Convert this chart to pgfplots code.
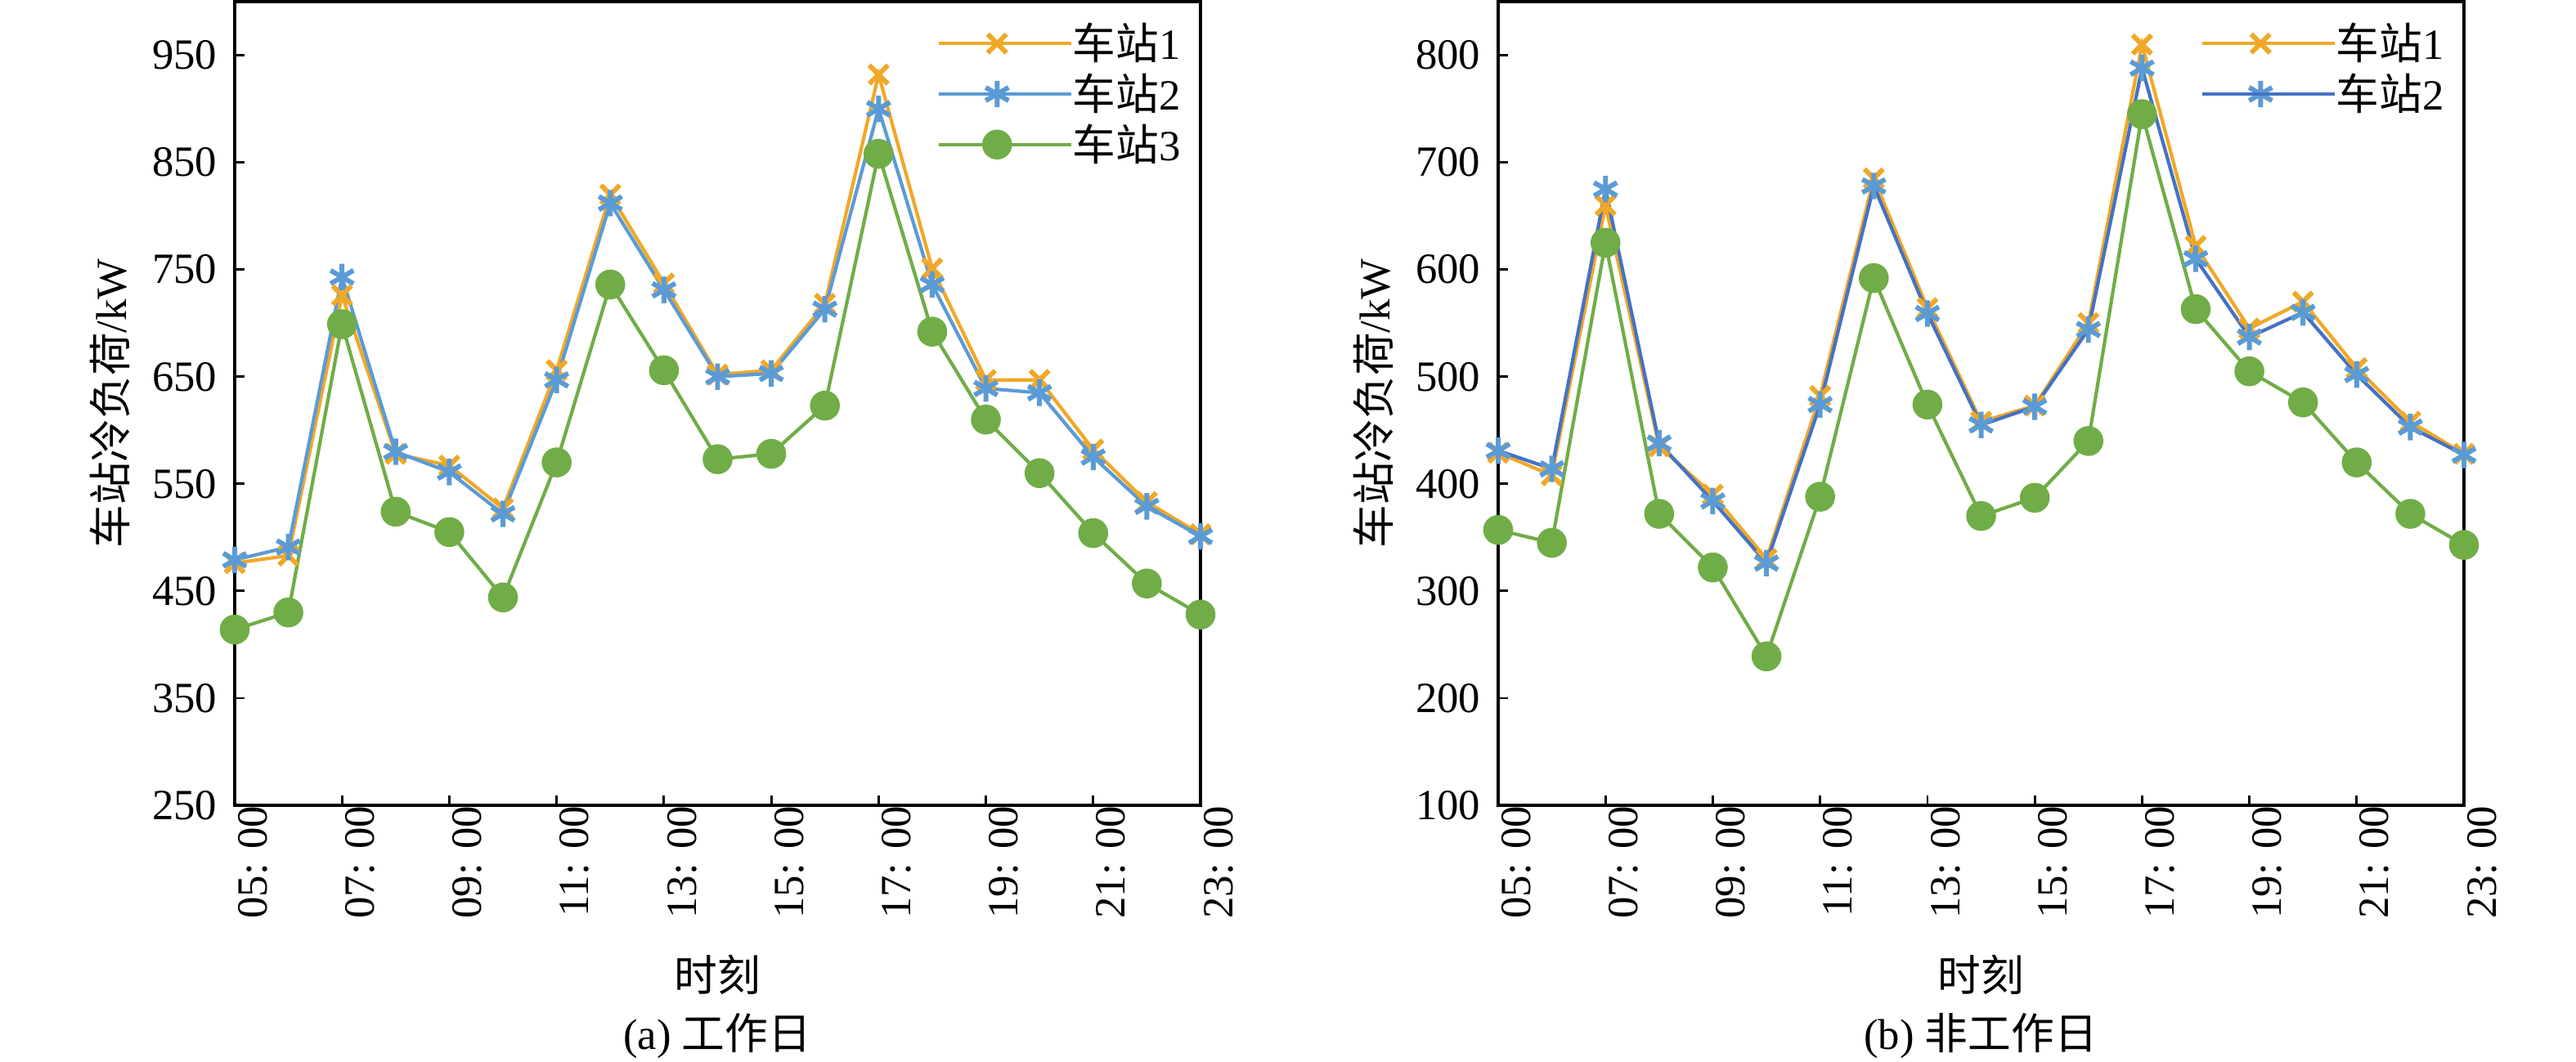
\documentclass[border=0pt]{standalone}
\usepackage{pgfplots}
\pgfplotsset{compat=1.18}
\usepackage{fontspec}
\setmainfont{Liberation Serif}
\newfontfamily\cjk{Noto Sans CJK SC}
\definecolor{c1}{RGB}{240,168,40}
\definecolor{c2}{RGB}{91,155,213}
\definecolor{c2d}{RGB}{68,114,196}
\definecolor{c3}{RGB}{112,173,71}
\begin{document}
\begin{tikzpicture}
\useasboundingbox (0,0) rectangle (315mm,129.8mm);
\pgfplotsset{
  myaxis/.style={
    scale only axis, width=118.1mm, height=98.3mm,
    anchor=south west,
    xmin=5, xmax=23,
    xtick={5,7,...,23},
    xticklabels={05: 00,07: 00,09: 00,11: 00,13: 00,15: 00,17: 00,19: 00,21: 00,23: 00},
    tick align=inside, tick pos=left,
    major tick length=1.2mm,
    tick style={line width=0.8pt, black},
    axis line style={line width=1pt},
    font=\fontsize{15}{18}\selectfont,
    /pgf/number format/assume math mode=true,
    x tick label style={rotate=90, anchor=east, inner sep=0pt, yshift=-2.2mm, font=\fontsize{15}{18}\selectfont},
    y tick label style={anchor=east, inner sep=0pt, xshift=-2.1mm, font=\fontsize{15}{18}\selectfont},
    xlabel={\cjk 时刻},
    ylabel={{\cjk 车站冷负荷}/kW},
    every axis x label/.style={at={(rel axis cs:0.5,0)}, yshift=-20.7mm, anchor=center, inner sep=0pt},
    every axis y label/.style={at={(rel axis cs:0,0.5)}, xshift=-15.3mm, rotate=90, anchor=center, inner sep=0pt},
    clip=false,
    legend style={draw=none, fill=none, anchor=north east, at={(rel axis cs:0.98,0.974)},
      inner sep=0pt, nodes={inner sep=0pt, anchor=west}, row sep=1.2mm,
      font=\fontsize{15}{18}\selectfont},
    legend cell align=left,
    legend image code/.code={
      \draw[mark repeat=2,mark phase=2,##1] plot coordinates {(0mm,0mm) (7.15mm,0mm) (14.3mm,0mm)};
      \path (0mm,0mm) -- (16.2mm,0mm);
    },
    every axis plot/.append style={line width=1.2pt},
  }
}
\begin{axis}[myaxis, at={(28.7mm,31.3mm)}, ymin=250, ymax=1000, ytick={250,350,...,950}]
\addplot[c1, mark=x, mark size=4.6pt, mark options={line width=1.7pt}] coordinates {
(5,476) (6,483) (7,726) (8,578) (9,567) (10,527) (11,656) (12,820) (13,737) (14,652) (15,656) (16,718) (17,932) (18,751) (19,647) (20,647) (21,582) (22,533) (23,503)};
\addlegendentry{{\cjk 车站}1}
\addplot[c2, mark=asterisk, mark size=4.6pt, mark options={line width=1.7pt}] coordinates {
(5,479) (6,491) (7,743) (8,580) (9,561) (10,522) (11,647) (12,812) (13,731) (14,650) (15,653) (16,713) (17,900) (18,736) (19,639) (20,635) (21,575) (22,529) (23,501)};
\addlegendentry{{\cjk 车站}2}
\addplot[c3, mark=*, mark size=4.6pt, mark options={draw=none, fill=c3}] coordinates {
(5,414) (6,430) (7,699) (8,524) (9,505) (10,444) (11,570) (12,736) (13,656) (14,573) (15,578) (16,623) (17,858) (18,692) (19,610) (20,560) (21,504) (22,457) (23,428)};
\addlegendentry{{\cjk 车站}3}
\end{axis}
\begin{axis}[myaxis, at={(183.2mm,31.3mm)}, ymin=100, ymax=850, ytick={100,200,...,800}]
\addplot[c1, mark=x, mark size=4.6pt, mark options={line width=1.7pt}] coordinates {
(5,429) (6,408) (7,660) (8,435) (9,390) (10,330) (11,482) (12,685) (13,564) (14,458) (15,473) (16,550) (17,810) (18,622) (19,545) (20,570) (21,508) (22,458) (23,428)};
\addlegendentry{{\cjk 车站}1}
\addplot[c2d, mark=asterisk, mark size=4.6pt, mark options={line width=1.7pt, c2}] coordinates {
(5,431) (6,414) (7,675) (8,438) (9,384) (10,326) (11,474) (12,678) (13,559) (14,455) (15,472) (16,544) (17,788) (18,610) (19,537) (20,560) (21,502) (22,453) (23,427)};
\addlegendentry{{\cjk 车站}2}
\addplot[c3, mark=*, mark size=4.6pt, mark options={draw=none, fill=c3}, forget plot] coordinates {
(5,357) (6,345) (7,625) (8,372) (9,322) (10,239) (11,388) (12,592) (13,474) (14,370) (15,387) (16,440) (17,745) (18,563) (19,505) (20,476) (21,420) (22,372) (23,343)};
\end{axis}
\node[font=\fontsize{15}{18}\selectfont, inner sep=0pt] at (87.7mm,3.1mm) {(a) {\cjk 工作日}};
\node[font=\fontsize{15}{18}\selectfont, inner sep=0pt] at (242.2mm,3.1mm) {(b) {\cjk 非工作日}};
\end{tikzpicture}
\end{document}
